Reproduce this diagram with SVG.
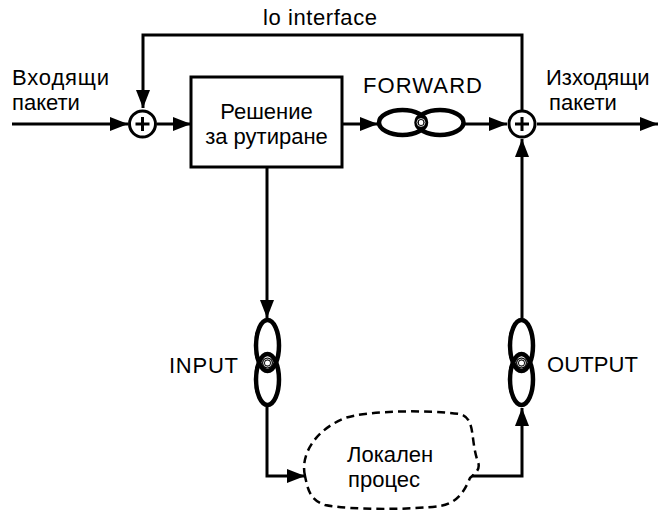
<svg xmlns="http://www.w3.org/2000/svg" width="659" height="510" viewBox="0 0 659 510">
<defs>
<style>
text{font-family:"Liberation Sans",Arial,sans-serif;font-size:22px;fill:#000}
.ln{fill:none;stroke:#000;stroke-width:3}
.oval{fill:none;stroke:#000;stroke-width:4.5}
.sum{fill:#fff;stroke:#000;stroke-width:3}
.plus{fill:none;stroke:#000;stroke-width:3}
.knot{fill:none;stroke:#000;stroke-width:3}
.knotw{fill:none;stroke:#fff;stroke-width:0.8}
</style>
<marker id="arr" markerUnits="userSpaceOnUse" viewBox="0 0 18 14" refX="18" refY="7" markerWidth="18" markerHeight="14" orient="auto">
<path d="M0,0 L18,7 L0,14 Z" fill="#000"/>
</marker>
</defs>
<rect width="659" height="510" fill="#fff"/>

<g id="connectors">
<path class="ln" d="M12,124 H128" marker-end="url(#arr)"/>
<path class="ln" d="M157,124 H191" marker-end="url(#arr)"/>
<path class="ln" d="M522,110 V35 H143 V108" marker-end="url(#arr)"/>
<path class="ln" d="M342,124 H378" marker-end="url(#arr)"/>
<path class="ln" d="M465,124 H507" marker-end="url(#arr)"/>
<path class="ln" d="M537,124 H658" marker-end="url(#arr)"/>
<path class="ln" d="M267,167 V318" marker-end="url(#arr)"/>
<path class="ln" d="M267,407 V476 H305" marker-end="url(#arr)"/>
<path class="ln" d="M472,476 H522 V408" marker-end="url(#arr)"/>
<path class="ln" d="M522,318 V139" marker-end="url(#arr)"/>
</g>

<g id="lo-label"><text x="263" y="25" textLength="114">lo interface</text></g>

<g id="in-label">
<text x="12" y="85" textLength="97">Входящи</text>
<text x="12" y="110">пакети</text>
</g>

<g id="out-label">
<text x="546" y="85">Изходящи</text>
<text x="549" y="110">пакети</text>
</g>

<g id="sum-left">
<circle class="sum" cx="142.5" cy="124" r="13"/>
<path class="plus" d="M135.5,124 H149.5 M142.5,117 V131"/>
</g>

<g id="sum-right">
<circle class="sum" cx="522" cy="124" r="13"/>
<path class="plus" d="M515,124 H529 M522,117 V131"/>
</g>

<g id="routing">
<rect x="191" y="77" width="151" height="90" fill="#fff" stroke="#000" stroke-width="3"/>
<text x="266.5" y="119" text-anchor="middle">Решение</text>
<text x="266.5" y="144" text-anchor="middle">за рутиране</text>
</g>

<g id="forward">
<ellipse class="oval" cx="402.5" cy="122.5" rx="23.5" ry="12.5"/>
<ellipse class="oval" cx="440" cy="122.5" rx="23.5" ry="12.5"/>
<circle class="knot" cx="421" cy="122.5" r="4"/>
<circle class="knotw" cx="421" cy="122.5" r="4"/>
<text x="363" y="93" textLength="119">FORWARD</text>
</g>

<g id="input">
<ellipse class="oval" cx="267.5" cy="345.5" rx="11.5" ry="25.5"/>
<ellipse class="oval" cx="267.5" cy="379.5" rx="11.5" ry="25.5"/>
<circle class="knot" cx="267.5" cy="363" r="4"/>
<circle class="knotw" cx="267.5" cy="363" r="4"/>
<text x="169" y="373" textLength="69">INPUT</text>
</g>

<g id="output">
<ellipse class="oval" cx="521.5" cy="345.5" rx="11.5" ry="25.5"/>
<ellipse class="oval" cx="521.5" cy="379.5" rx="11.5" ry="25.5"/>
<circle class="knot" cx="521.5" cy="363" r="4"/>
<circle class="knotw" cx="521.5" cy="363" r="4"/>
<text x="547" y="372" textLength="91">OUTPUT</text>
</g>

<g id="local-process">
<path d="M305,476 C300,455 315,430 345,418 C370,410 430,410 460,414 C476,418 470,440 478,462 C481,470 474,474 470,478 C465,490 458,503 440,506 C410,510 350,510 325,505 C310,500 308,490 305,476 Z" fill="none" stroke="#000" stroke-width="2.5" stroke-dasharray="8 5"/>
<text x="347" y="462">Локален</text>
<text x="348" y="487">процес</text>
</g>
</svg>
